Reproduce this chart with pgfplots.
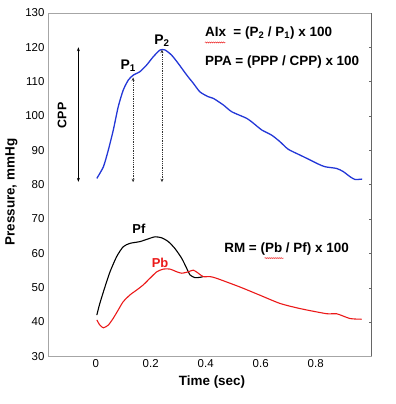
\documentclass[border=0pt]{standalone}
\usepackage{pgfplots}
\pgfplotsset{compat=1.18}
\usepackage{fontspec}
\setmainfont{Liberation Sans}
\usetikzlibrary{arrows.meta,decorations.pathmorphing}
\definecolor{cblue}{RGB}{35,55,215}
\definecolor{cred}{RGB}{235,25,25}
\begin{document}
\begin{tikzpicture}
\begin{axis}[
  at={(0,0)}, anchor=south west,
  scale only axis, width=323.5bp, height=343.4bp,
  xmin=-0.1735, xmax=1.003, ymin=30, ymax=130,
  xtick={0,0.2,0.4,0.6,0.8},
  ytick={30,40,...,130},
  xtick style={draw=none},
  ytick pos=right, yticklabel pos=left,
  major tick length=3bp,
  ytick style={gray!80!black},
  axis line style={gray!70},
  /pgf/number format/assume math mode=true,
  ticklabel style={font=\fontsize{11.5}{13}\selectfont},
  xlabel={\textbf{Time (sec)}},
  ylabel={\textbf{Pressure, mmHg}},
  label style={font=\fontsize{13.5}{15}\selectfont},
  xlabel style={at={(rel axis cs:0.507,0)}, anchor=north, yshift=-16bp},
  ylabel style={at={([xshift=-27bp]rel axis cs:0,0.478)}, anchor=south},
  clip=false,
]
\draw[gray!80!black, line width=1pt] (rel axis cs:1,0) -- (rel axis cs:1,1);
\addplot[cblue, line width=1.3pt, smooth, tension=0.4] coordinates {
(0.004,81.8)(0.028,85.2)(0.046,90.1)(0.064,95.9)(0.082,102.7)(0.100,107.5)
(0.119,110.5)(0.137,111.9)(0.161,112.9)(0.185,114.8)(0.209,117.2)(0.234,119.2)
(0.252,119.2)(0.276,117.7)(0.300,115.3)(0.331,111.9)(0.355,109.5)(0.379,107.0)
(0.409,105.6)(0.428,105.1)(0.464,103.2)(0.495,101.2)(0.549,99.3)(0.573,97.9)
(0.604,95.9)(0.640,94.4)(0.670,92.5)(0.700,90.3)(0.743,88.6)(0.779,87.2)
(0.809,86.0)(0.834,85.2)(0.876,84.7)(0.900,83.8)(0.925,82.3)(0.943,81.5)(0.969,81.6)
};
\addplot[black, line width=1.1pt, smooth, tension=0.4] coordinates {
(0.004,42.0)(0.015,45.4)(0.034,50.3)(0.052,54.6)(0.076,59.0)(0.100,61.9)
(0.125,62.9)(0.161,63.4)(0.191,64.2)(0.216,64.8)(0.240,64.5)(0.264,63.4)
(0.288,61.4)(0.313,58.5)(0.331,55.6)(0.343,53.7)(0.361,52.9)(0.379,53.0)(0.391,53.2)
};
\addplot[cred, line width=1.1pt, smooth, tension=0.4] coordinates {
(0.004,40.6)(0.015,39.1)(0.028,38.3)(0.046,39.1)(0.064,41.1)(0.082,43.5)
(0.100,45.9)(0.125,47.9)(0.149,49.3)(0.173,50.8)(0.197,52.7)(0.222,54.6)
(0.246,55.4)(0.270,55.4)(0.295,54.6)(0.313,54.2)(0.337,54.6)(0.355,55.1)
(0.373,54.2)(0.391,53.2)(0.416,53.2)(0.44,52.7)(0.524,50.2)(0.597,47.8)
(0.67,45.4)(0.743,43.9)(0.84,42.4)(0.876,42.4)(0.925,41.0)(0.967,40.8)
};
% annotations
\draw[black, line width=0.8pt, {Stealth[length=4pt,width=3pt]}-{Stealth[length=4pt,width=3pt]}] (axis cs:-0.063,120) -- (axis cs:-0.063,80.8);
\draw[gray!40!black, line width=0.8pt, densely dotted, {Stealth[length=3.5pt,width=3pt]}-{Stealth[length=3.5pt,width=3pt]}] (axis cs:0.136,111.2) -- (axis cs:0.136,80.7);
\draw[gray!40!black, line width=0.8pt, densely dotted, {Stealth[length=3.5pt,width=3pt]}-{Stealth[length=3.5pt,width=3pt]}] (axis cs:0.241,119.3) -- (axis cs:0.241,80.7);
\node[rotate=90, font=\bfseries\fontsize{12.5}{14}\selectfont] at (axis cs:-0.122,100.2) {CPP};
\node[font=\bfseries\fontsize{14}{16}\selectfont] at (axis cs:0.118,114.6) {P$_{\mathbf{1}}$};
\node[font=\bfseries\fontsize{14}{16}\selectfont] at (axis cs:0.241,122.0) {P$_{\mathbf{2}}$};
\node[font=\bfseries\fontsize{13.5}{15}\selectfont, anchor=west, inner sep=0pt] at (axis cs:0.397,124.1) {AIx\ \ = (P$_{\mathbf{2}}$ / P$_{\mathbf{1}}$) x 100};
\node[font=\bfseries\fontsize{13.5}{15}\selectfont, anchor=west, inner sep=0pt] at (axis cs:0.397,115.7) {PPA = (PPP / CPP) x 100};
\node[font=\bfseries\fontsize{13.5}{15}\selectfont, anchor=west, inner sep=0pt] at (axis cs:0.467,61.2) {RM = (Pb / Pf) x 100};
\node[font=\bfseries\fontsize{13}{15}\selectfont] at (axis cs:0.157,67.1) {Pf};
\node[font=\bfseries\fontsize{13}{15}\selectfont, text=cred] at (axis cs:0.234,57.2) {Pb};
\draw[cred, line width=0.4pt, decorate, decoration={snake, amplitude=0.6pt, segment length=2pt}] (axis cs:0.397,121.4) -- (axis cs:0.472,121.4);
\draw[cred, line width=0.4pt, decorate, decoration={snake, amplitude=0.6pt, segment length=2pt}] (axis cs:0.614,58.6) -- (axis cs:0.683,58.6);
\end{axis}
\pgfresetboundingbox
\useasboundingbox (-48bp,-47.7bp) rectangle (348bp,356.3bp);
\end{tikzpicture}
\end{document}
